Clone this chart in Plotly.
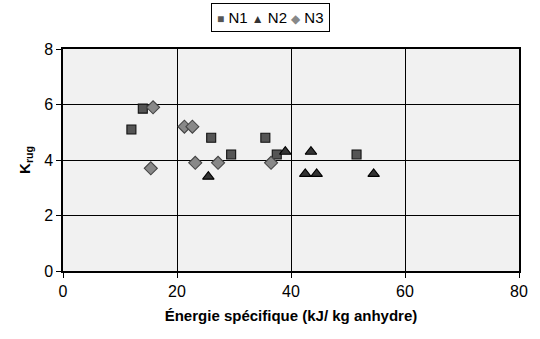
import plotly.graph_objects as go

n1_x = [12, 14, 26, 29.5, 35.5, 37.5, 51.5]
n1_y = [5.1, 5.85, 4.8, 4.2, 4.8, 4.2, 4.2]
n2_x = [25.5, 39, 42.5, 43.5, 44.5, 54.5]
n2_y = [3.4, 4.3, 3.5, 4.3, 3.5, 3.5]
n3_x = [15.4, 15.8, 21.3, 22.7, 23.2, 27.2, 36.5]
n3_y = [3.7, 5.9, 5.2, 5.2, 3.9, 3.9, 3.9]

x_ticks = [0, 20, 40, 60, 80]
y_ticks = [0, 2, 4, 6, 8]

series = [
    ("N1", n1_x, n1_y, "square", 9, "#555555", "#111111", "■"),
    ("N2", n2_x, n2_y, "triangle-up", 10, "#333333", "#000000", "▲"),
    ("N3", n3_x, n3_y, "diamond", 10, "#888888", "#444444", "◆"),
]

fig = go.Figure()
for name, xs, ys, sym, size, col, lcol, _ in series:
    fig.add_trace(go.Scatter(x=xs, y=ys, mode="markers", name=name,
                             marker=dict(symbol=sym, size=size, color=col,
                                         line=dict(color=lcol, width=1.1))))

legend_text = " ".join(
    f"<span style='color:{col};font-size:12px'>{ch}</span> {name}"
    for name, _, _, _, _, col, _, ch in series
)
fig.add_annotation(text=legend_text, xref="paper", yref="paper",
                   x=0.454, y=1.205, xanchor="center", yanchor="top",
                   showarrow=False, bordercolor="black", borderwidth=1,
                   borderpad=5, bgcolor="white",
                   font=dict(size=15, color="black"))

fig.update_layout(
    width=540, height=339,
    margin=dict(l=63, r=16, t=49, b=68),
    paper_bgcolor="white",
    plot_bgcolor="#f1f1f1",
    font=dict(family="Liberation Sans, Arial, sans-serif", size=14, color="black"),
    showlegend=False,
    xaxis=dict(range=[0, 80], tickvals=x_ticks, ticks="outside", ticklen=5,
               tickcolor="black", tickfont=dict(size=16),
               ticklabeloverflow="allow",
               showgrid=True, gridcolor="black", gridwidth=1,
               showline=True, linecolor="black", linewidth=1.5, mirror=True,
               zeroline=False,
               title=dict(text="<b>Énergie spécifique (kJ/ kg anhydre)</b>",
                          font=dict(size=15), standoff=12)),
    yaxis=dict(range=[0, 8], tickvals=y_ticks, ticks="outside", ticklen=5,
               tickcolor="black", tickfont=dict(size=16),
               ticklabeloverflow="allow",
               showgrid=True, gridcolor="black", gridwidth=1,
               showline=True, linecolor="black", linewidth=1.5, mirror=True,
               zeroline=False,
               title=dict(text="<b>K<sub>rug</sub></b>", font=dict(size=15),
                          standoff=10)),
)

fig.write_html("out.html", config={"displayModeBar": False},
               post_script="document.body.style.margin='0';document.body.style.overflow='hidden';")
